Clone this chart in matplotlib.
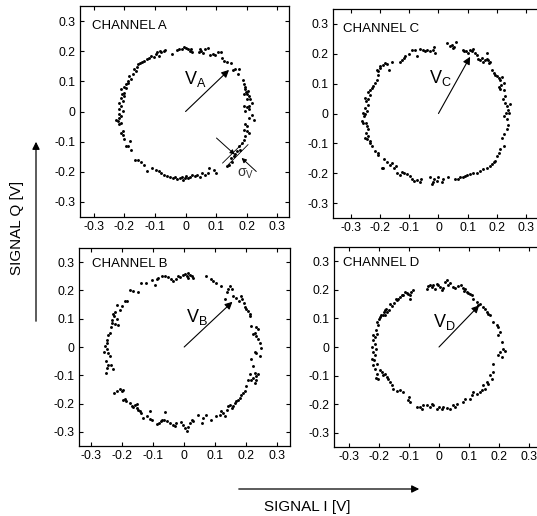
import numpy as np
import matplotlib
matplotlib.use("Agg")
import matplotlib.pyplot as plt

plt.rcParams['font.family'] = ['Liberation Sans', 'DejaVu Sans']
plt.rcParams['axes.unicode_minus'] = False
plt.rcParams['mathtext.fontset'] = 'custom'
plt.rcParams['mathtext.rm'] = 'Liberation Sans'
plt.rcParams['mathtext.it'] = 'Liberation Sans'

# I/Q samples, one array per channel (I, Q in volts)
chan_a = np.array([
    # top
    [-0.029, 0.203], [-0.020, 0.209], [-0.013, 0.207], [-0.005, 0.214], [0.003, 0.212],
    [0.009, 0.207], [0.014, 0.201], [0.019, 0.209], [0.022, 0.199], [0.044, 0.196],
    [0.046, 0.207], [0.051, 0.201], [0.057, 0.193], [0.062, 0.207], [0.073, 0.210],
    [0.080, 0.188], [0.089, 0.190], [0.097, 0.187], [0.105, 0.198], [0.115, 0.196],
    [0.118, 0.179], [0.126, 0.168], [0.137, 0.164], [0.147, 0.162], [0.155, 0.137],
    [0.163, 0.140], [0.174, 0.142], [0.172, 0.123],
    # right
    [0.187, 0.103], [0.190, 0.090], [0.193, 0.082], [0.195, 0.073], [0.197, 0.064],
    [0.201, 0.059], [0.204, 0.068], [0.190, 0.057], [0.206, 0.051], [0.201, 0.040],
    [0.211, 0.040], [0.217, 0.029], [0.208, 0.018], [0.201, 0.016], [0.190, 0.018],
    [0.195, 0.001], [0.206, 0.007], [0.217, -0.013], [0.206, -0.021], [0.222, -0.027],
    [0.195, -0.040], [0.201, -0.049], [0.190, -0.060], [0.201, -0.066], [0.206, -0.071],
    [0.195, -0.082], [0.190, -0.093], [0.185, -0.104], [0.174, -0.116], [0.179, -0.127],
    [0.169, -0.132], [0.163, -0.140], [0.158, -0.149], [0.147, -0.154], [0.153, -0.166],
    [0.142, -0.177], [0.137, -0.182],
    # bottom
    [0.099, -0.204], [0.094, -0.193], [0.078, -0.188], [0.073, -0.204], [0.062, -0.210],
    [0.054, -0.204], [0.046, -0.216], [0.037, -0.210], [0.030, -0.213], [0.022, -0.210],
    [0.014, -0.216], [0.009, -0.221], [0.003, -0.213], [-0.002, -0.221], [-0.007, -0.227],
    [-0.013, -0.216], [-0.018, -0.221], [-0.027, -0.224], [-0.034, -0.216], [-0.042, -0.221],
    [-0.050, -0.216], [-0.061, -0.213], [-0.069, -0.210], [-0.080, -0.204], [-0.088, -0.199],
    [-0.098, -0.193], [-0.109, -0.188], [-0.127, -0.196], [-0.136, -0.177], [-0.146, -0.166],
    [-0.157, -0.160], [-0.165, -0.160],
    # left
    [-0.178, -0.127], [-0.194, -0.116], [-0.187, -0.113], [-0.180, -0.099], [-0.200, -0.091],
    [-0.205, -0.077], [-0.212, -0.071], [-0.205, -0.066], [-0.216, -0.043], [-0.210, -0.038],
    [-0.221, -0.032], [-0.216, -0.021], [-0.226, -0.027], [-0.210, -0.016], [-0.219, -0.007],
    [-0.205, 0.001], [-0.216, 0.007], [-0.212, 0.018], [-0.219, 0.029], [-0.205, 0.034],
    [-0.210, 0.046], [-0.202, 0.051], [-0.208, 0.057], [-0.200, 0.062], [-0.210, 0.073],
    [-0.202, 0.082], [-0.194, 0.079], [-0.194, 0.090], [-0.189, 0.096], [-0.187, 0.101],
    [-0.178, 0.107], [-0.184, 0.118], [-0.173, 0.123], [-0.162, 0.134], [-0.168, 0.140],
    [-0.159, 0.146], [-0.157, 0.157], [-0.148, 0.162], [-0.141, 0.164], [-0.136, 0.168],
    [-0.125, 0.173], [-0.120, 0.179], [-0.114, 0.184], [-0.104, 0.182], [-0.098, 0.190],
    [-0.093, 0.196], [-0.088, 0.184], [-0.084, 0.201], [-0.080, 0.196], [-0.072, 0.201],
    [-0.066, 0.204], [-0.045, 0.190],
])

chan_b = np.array([
    [-0.019, 0.252], [-0.014, 0.246], [-0.005, 0.254], [0.002, 0.258], [0.008, 0.252],
    [0.013, 0.262], [0.018, 0.254], [0.024, 0.250], [0.029, 0.244], [0.013, 0.243],
    [-0.025, 0.240], [-0.035, 0.234], [-0.044, 0.240], [-0.052, 0.246], [-0.062, 0.250],
    [-0.073, 0.252], [-0.084, 0.243], [-0.089, 0.240], [-0.095, 0.219], [-0.105, 0.237],
    [-0.122, 0.228], [-0.138, 0.225], [-0.148, 0.193], [-0.165, 0.199], [-0.175, 0.201],
    [-0.186, 0.163], [-0.191, 0.163], [-0.202, 0.146], [-0.208, 0.131], [-0.216, 0.148],
    [-0.224, 0.124], [-0.227, 0.110], [-0.231, 0.116], [-0.234, 0.086], [-0.234, 0.096],
    [-0.224, 0.080], [-0.216, 0.098], [-0.213, 0.078], [-0.238, 0.069], [-0.240, 0.049],
    [-0.245, 0.041], [-0.251, 0.025], [-0.248, 0.015], [-0.256, 0.004], [-0.251, -0.008],
    [-0.259, -0.018], [-0.245, -0.020], [-0.240, -0.032], [-0.253, -0.050], [-0.245, -0.062],
    [-0.238, -0.065], [-0.248, -0.073], [-0.253, -0.091], [-0.229, -0.079],
    # lower half
    [-0.227, -0.162], [-0.218, -0.156], [-0.208, -0.150], [-0.202, -0.156], [-0.199, -0.153],
    [-0.197, -0.186], [-0.191, -0.183], [-0.188, -0.192], [-0.175, -0.198], [-0.170, -0.207],
    [-0.165, -0.212], [-0.159, -0.204], [-0.154, -0.200], [-0.154, -0.215], [-0.148, -0.221],
    [-0.143, -0.227], [-0.138, -0.233], [-0.132, -0.250], [-0.119, -0.245], [-0.111, -0.254],
    [-0.109, -0.227], [-0.105, -0.259], [-0.089, -0.271], [-0.081, -0.269], [-0.076, -0.263],
    [-0.073, -0.257], [-0.062, -0.230], [-0.066, -0.257], [-0.057, -0.263], [-0.046, -0.269],
    [-0.035, -0.275], [-0.030, -0.280], [-0.025, -0.269], [-0.009, -0.266], [-0.003, -0.275],
    [0.002, -0.286], [0.008, -0.298], [0.013, -0.283], [0.018, -0.269], [0.024, -0.257],
    [0.029, -0.263], [0.045, -0.239], [0.056, -0.269], [0.061, -0.251], [0.072, -0.239],
    [0.088, -0.257], [0.104, -0.245], [0.115, -0.239], [0.120, -0.227], [0.126, -0.233],
    [0.131, -0.245], [0.137, -0.221], [0.142, -0.209], [0.147, -0.204], [0.153, -0.215],
    [0.158, -0.209], [0.163, -0.198], [0.169, -0.192], [0.174, -0.188], [0.180, -0.180],
    [0.185, -0.168], [0.190, -0.162], [0.196, -0.156], [0.201, -0.138], [0.206, -0.115],
    [0.212, -0.097], [0.217, -0.115], [0.223, -0.109], [0.228, -0.091], [0.233, -0.103],
    [0.228, -0.127], [0.233, -0.117], [0.239, -0.097], [0.223, -0.067], [0.217, -0.044],
    # right / upper right
    [0.228, -0.018], [0.233, -0.020], [0.244, -0.032], [0.249, -0.002], [0.244, 0.015],
    [0.239, 0.027], [0.233, 0.039], [0.228, 0.049], [0.223, 0.045], [0.239, 0.063],
    [0.231, 0.069], [0.217, 0.075], [0.214, 0.110], [0.212, 0.116], [0.206, 0.128],
    [0.201, 0.134], [0.196, 0.140], [0.192, 0.157], [0.188, 0.169], [0.185, 0.181],
    [0.177, 0.163], [0.169, 0.175], [0.158, 0.181], [0.153, 0.205], [0.147, 0.217],
    [0.142, 0.205], [0.137, 0.193], [0.131, 0.169], [0.120, 0.217], [0.104, 0.228],
    [0.094, 0.234], [0.088, 0.240], [0.072, 0.252],
])

chan_c = np.array([
    [0.028, 0.236], [0.038, 0.227], [0.045, 0.230], [0.053, 0.224], [0.060, 0.238],
    [0.051, 0.219], [0.083, 0.213], [0.088, 0.210], [0.094, 0.208], [0.102, 0.202],
    [0.108, 0.213], [0.114, 0.208], [0.117, 0.216], [0.125, 0.204], [0.131, 0.197],
    [0.136, 0.182], [0.142, 0.178], [0.148, 0.186], [0.153, 0.174], [0.159, 0.180],
    [0.165, 0.182], [0.170, 0.178], [0.167, 0.202], [0.176, 0.174], [0.174, 0.169],
    [0.182, 0.147], [0.190, 0.136], [0.193, 0.130], [0.199, 0.124], [0.205, 0.119],
    [0.210, 0.113], [0.216, 0.122], [0.222, 0.102], [0.212, 0.097], [0.205, 0.089],
    [0.210, 0.082], [0.222, 0.080], [0.227, 0.058], [0.219, 0.047], [0.227, 0.036],
    [0.233, 0.024], [0.239, 0.013], [0.244, 0.033], [0.242, 0.002], [0.231, 0.002],
    [0.222, -0.009], [0.233, -0.020], [0.239, -0.037], [0.235, -0.053], [0.222, -0.070],
    [0.216, -0.081], [0.222, -0.109], [0.210, -0.120], [0.205, -0.131], [0.199, -0.142],
    [0.193, -0.159], [0.190, -0.164], [0.182, -0.170], [0.176, -0.176], [0.165, -0.181],
    [0.153, -0.187], [0.142, -0.192], [0.131, -0.198], [0.119, -0.200], [0.108, -0.203],
    [0.097, -0.207], [0.091, -0.209], [0.085, -0.212], [0.074, -0.214], [0.068, -0.218],
    [0.057, -0.220], [0.034, -0.214], [0.017, -0.220], [0.011, -0.231], [0.000, -0.214],
    [-0.006, -0.226], [-0.015, -0.220], [-0.019, -0.229], [-0.023, -0.237], [-0.028, -0.214],
    [-0.060, -0.220], [-0.062, -0.229], [-0.074, -0.222], [-0.083, -0.226], [-0.091, -0.220],
    [-0.097, -0.209], [-0.106, -0.203], [-0.119, -0.200], [-0.125, -0.196], [-0.131, -0.207],
    [-0.142, -0.198], [-0.144, -0.176], [-0.153, -0.181], [-0.159, -0.167], [-0.165, -0.173],
    [-0.176, -0.162], [-0.185, -0.153], [-0.190, -0.181], [-0.193, -0.184], [-0.205, -0.131],
    [-0.208, -0.140], [-0.216, -0.126], [-0.227, -0.109], [-0.233, -0.098], [-0.235, -0.092],
    [-0.244, -0.087], [-0.242, -0.076], [-0.250, -0.081], [-0.247, -0.064], [-0.239, -0.053],
    [-0.244, -0.042], [-0.247, -0.031], [-0.256, -0.033], [-0.261, -0.026], [-0.253, -0.009],
    [-0.250, -0.003], [-0.244, 0.008], [-0.256, 0.002], [-0.250, 0.019], [-0.242, 0.030],
    [-0.247, 0.041], [-0.250, 0.052], [-0.239, 0.047], [-0.235, 0.063], [-0.242, 0.071],
    [-0.233, 0.080], [-0.227, 0.086], [-0.222, 0.091], [-0.216, 0.102], [-0.210, 0.113],
    [-0.208, 0.130], [-0.205, 0.141], [-0.210, 0.147], [-0.201, 0.152], [-0.199, 0.160],
    [-0.190, 0.163], [-0.182, 0.169], [-0.176, 0.167], [-0.170, 0.147], [-0.159, 0.171],
    [-0.131, 0.174], [-0.125, 0.180], [-0.119, 0.186], [-0.114, 0.191], [-0.102, 0.200],
    [-0.091, 0.213], [-0.074, 0.191], [-0.080, 0.213], [-0.062, 0.216], [-0.053, 0.213],
    [-0.045, 0.210], [-0.040, 0.213], [-0.028, 0.208], [-0.019, 0.213], [-0.011, 0.204],
    [-0.015, 0.224],
])

chan_d = np.array([
    [-0.041, 0.204], [-0.036, 0.214], [-0.030, 0.218], [-0.024, 0.210], [-0.019, 0.216],
    [-0.013, 0.204], [-0.008, 0.222], [-0.002, 0.218], [0.003, 0.210], [0.009, 0.198],
    [0.014, 0.207], [0.020, 0.228], [0.026, 0.233], [0.031, 0.218], [0.037, 0.225],
    [0.048, 0.210], [0.053, 0.207], [0.064, 0.214], [0.072, 0.216], [0.079, 0.207],
    [0.083, 0.195], [0.087, 0.202], [0.092, 0.193], [0.098, 0.190], [0.103, 0.187],
    [0.109, 0.183], [0.114, 0.169], [0.126, 0.158], [0.131, 0.146], [0.137, 0.152],
    [0.148, 0.140], [0.153, 0.132], [0.159, 0.123], [0.164, 0.117], [0.170, 0.111],
    [0.181, 0.088], [0.192, 0.076], [0.198, 0.070], [0.203, 0.053], [0.198, 0.041],
    [0.209, 0.018], [0.214, -0.006], [0.220, -0.015], [0.203, -0.018], [0.198, -0.029],
    [0.209, -0.035], [0.181, -0.058], [0.181, -0.088], [0.170, -0.099], [0.176, -0.111],
    [0.159, -0.123], [0.164, -0.128], [0.148, -0.134], [0.153, -0.146], [0.142, -0.152],
    [0.137, -0.158], [0.126, -0.163], [0.114, -0.158], [0.109, -0.169], [0.103, -0.181],
    [0.087, -0.183], [0.081, -0.193], [0.059, -0.198], [0.053, -0.210], [0.048, -0.204],
    [0.037, -0.216], [0.026, -0.212], [0.014, -0.210], [0.009, -0.216], [0.001, -0.210],
    [-0.008, -0.216], [-0.019, -0.204], [-0.024, -0.198], [-0.030, -0.210], [-0.041, -0.202],
    [-0.052, -0.204], [-0.058, -0.216], [-0.063, -0.210], [-0.074, -0.210], [-0.099, -0.175],
    [-0.102, -0.187], [-0.097, -0.193], [-0.119, -0.158], [-0.130, -0.152], [-0.141, -0.155],
    [-0.152, -0.146], [-0.158, -0.134], [-0.163, -0.123], [-0.169, -0.111], [-0.174, -0.105],
    [-0.180, -0.093], [-0.186, -0.099], [-0.191, -0.088], [-0.197, -0.082], [-0.206, -0.093],
    [-0.210, -0.109], [-0.202, -0.111], [-0.213, -0.076], [-0.219, -0.064], [-0.208, -0.058],
    [-0.217, -0.047], [-0.224, -0.041], [-0.213, -0.029], [-0.219, -0.018], [-0.210, -0.006],
    [-0.224, 0.000], [-0.213, 0.012], [-0.221, 0.023], [-0.213, 0.035], [-0.219, 0.041],
    [-0.206, 0.047], [-0.210, 0.058], [-0.202, 0.076], [-0.206, 0.088], [-0.199, 0.097],
    [-0.197, 0.105], [-0.194, 0.111], [-0.188, 0.113], [-0.183, 0.123], [-0.180, 0.128],
    [-0.177, 0.134], [-0.180, 0.111], [-0.172, 0.123], [-0.166, 0.128], [-0.158, 0.144],
    [-0.163, 0.152], [-0.150, 0.155], [-0.141, 0.163], [-0.136, 0.169], [-0.143, 0.169],
    [-0.130, 0.175], [-0.124, 0.181], [-0.119, 0.183], [-0.113, 0.193], [-0.108, 0.190],
    [-0.102, 0.187], [-0.097, 0.181], [-0.094, 0.193], [-0.086, 0.198], [-0.097, 0.169],
])

# mean vector tip for each channel
vec_tips = {'A': (0.142, 0.138), 'B': (0.156, 0.160), 'C': (0.108, 0.190), 'D': (0.134, 0.146)}
vec_label_pos = {'A': (-0.006, 0.090), 'B': (0.006, 0.090), 'C': (-0.031, 0.103), 'D': (-0.020, 0.070)}

tick_vals = [-0.3, -0.2, -0.1, 0.0, 0.1, 0.2, 0.3]
tick_labels = ['-0.3', '-0.2', '-0.1', '0', '0.1', '0.2', '0.3']

W, H = 537, 516
fig = plt.figure(figsize=(W / 100, H / 100), dpi=100)

# panel boxes in pixels: left, top, right, bottom, x limits, title position (axes fraction)
panels = [
    ('A', chan_a, (80, 6, 289, 217), (-0.345, 0.338), (0.057, 0.935)),
    ('C', chan_c, (333, 9, 541, 218), (-0.36, 0.35), (0.048, 0.935)),
    ('B', chan_b, (79, 248, 290, 446), (-0.34, 0.342), (0.060, 0.948)),
    ('D', chan_d, (334, 247, 544, 447), (-0.35, 0.35), (0.045, 0.948)),
]

axes = {}
for name, pts, (l, t, r, b), xlim, (tx, ty) in panels:
    ax = fig.add_axes([l / W, 1 - b / H, (r - l) / W, (b - t) / H])
    ax.plot(pts[:, 0], pts[:, 1], 'o', color='black', markersize=2.1, markeredgewidth=0)
    ax.set_xlim(*xlim)
    ax.set_ylim(-0.35, 0.35)
    ax.set_xticks(tick_vals)
    ax.set_xticklabels(tick_labels)
    ax.set_yticks(tick_vals)
    ax.set_yticklabels(tick_labels)
    ax.tick_params(direction='in', length=3, width=0.8, top=True, right=True,
                   labelsize=8.8, pad=3, colors='black')
    for sp in ax.spines.values():
        sp.set_linewidth(0.9)
    ax.text(tx, ty, f'CHANNEL {name}', transform=ax.transAxes, fontsize=9.5,
            ha='left', va='top')
    ax.annotate('', xy=vec_tips[name], xytext=(0, 0),
                arrowprops=dict(arrowstyle='-|>', lw=0.8, color='black', mutation_scale=11,
                                shrinkA=0, shrinkB=0))
    lx, ly = vec_label_pos[name]
    ax.text(lx, ly, r'$\mathregular{V_%s}$' % name, fontsize=13, ha='left', va='baseline')
    axes[name] = ax

# spread marker in channel A
ax = axes['A']
ax.plot([0.121, 0.188], [-0.171, -0.104], color='black', lw=0.6)
ax.plot([0.139, 0.204], [-0.177, -0.110], color='black', lw=0.6)
ax.annotate('', xy=(0.161, -0.143), xytext=(0.101, -0.088),
            arrowprops=dict(arrowstyle='-|>', lw=0.7, color='black', mutation_scale=7,
                            shrinkA=0, shrinkB=0))
ax.annotate('', xy=(0.183, -0.154), xytext=(0.231, -0.199),
            arrowprops=dict(arrowstyle='-|>', lw=0.7, color='black', mutation_scale=7,
                            shrinkA=0, shrinkB=0))
ax.text(0.168, -0.215, r'$\sigma_\mathregular{V}$', fontsize=10, ha='left', va='baseline',
        color='#333333')

# axis labels with arrows
fig.text(17 / W, 1 - 228 / H, 'SIGNAL Q [V]', rotation=90, ha='center', va='center', fontsize=11)
fig.text(307 / W, 1 - 507 / H, 'SIGNAL I [V]', ha='center', va='center', fontsize=11)
fig.patches.append(matplotlib.patches.FancyArrowPatch(
    (36 / W, 1 - 324 / H), (36 / W, 1 - 139 / H), transform=fig.transFigure,
    arrowstyle='-|>', mutation_scale=11, lw=0.9, color='black'))
fig.patches.append(matplotlib.patches.FancyArrowPatch(
    (236 / W, 1 - 489 / H), (422 / W, 1 - 489 / H), transform=fig.transFigure,
    arrowstyle='-|>', mutation_scale=11, lw=0.9, color='black'))

fig.savefig('out.png', dpi=100)
